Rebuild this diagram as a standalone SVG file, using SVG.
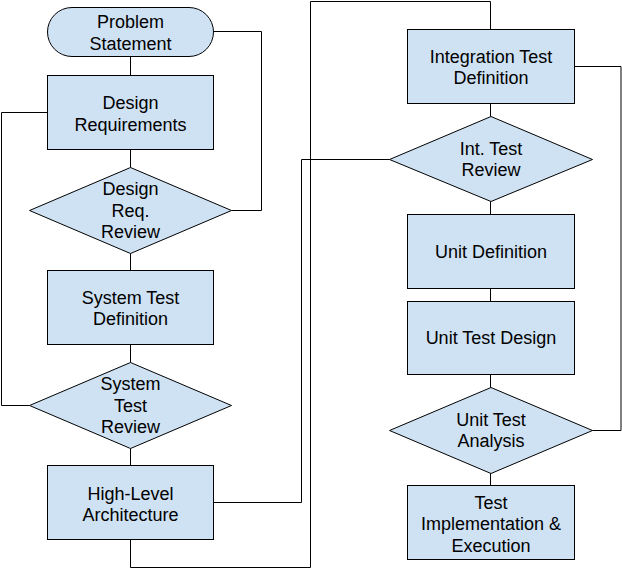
<svg xmlns="http://www.w3.org/2000/svg" width="622" height="569" viewBox="0 0 622 569">
<style>
.n{fill:#cfe2f3;stroke:#000;stroke-width:1}
.c{fill:none;stroke:#000;stroke-width:1}
text{font-family:"Liberation Sans",Arial,sans-serif;font-size:18px;fill:#000;text-anchor:middle}
</style>
<rect width="622" height="569" fill="#fff"/>
<g id="connectors">
<path class="c" d="M130.5 56V75.5M130.5 149.5V167.5M130.5 253.5V270.5M130.5 344.5V362.5M130.5 448.5V465.5"/>
<path class="c" d="M213.5 31.5H261.5V210.5H231.5"/>
<path class="c" d="M47.5 112.5H1.5V405.5H29.5"/>
<path class="c" d="M213.5 502.5H301.5V159.5H389.5"/>
<path class="c" d="M130.5 539.5V567.5H310.5V1.5H490.5V29.5"/>
<path class="c" d="M490.5 103.5V116.5M490.5 201.5V214.5M490.5 288.5V301.5M490.5 374.5V387.5M490.5 473.5V485.5"/>
<path class="c" d="M574.5 66.5H621V430.5H592.5"/>
</g>
<g id="problem-statement"><rect class="n" x="47.5" y="7.5" width="166" height="49" rx="24.5"/><text x="130.5" y="28">Problem</text><text x="130.5" y="49.5">Statement</text></g>
<g id="design-requirements"><rect class="n" x="47.5" y="75.5" width="166" height="74"/><text x="130.5" y="109">Design</text><text x="130.5" y="130.5">Requirements</text></g>
<g id="design-req-review"><polygon class="n" points="130.5,167.5 231.5,210.5 130.5,253.5 29.5,210.5"/><text x="130.5" y="195">Design</text><text x="130.5" y="216.5">Req.</text><text x="130.5" y="238">Review</text></g>
<g id="system-test-definition"><rect class="n" x="47.5" y="270.5" width="166" height="74"/><text x="130.5" y="303.5">System Test</text><text x="130.5" y="325">Definition</text></g>
<g id="system-test-review"><polygon class="n" points="130.5,362.5 231.5,405.5 130.5,448.5 29.5,405.5"/><text x="130.5" y="390">System</text><text x="130.5" y="411.5">Test</text><text x="130.5" y="433">Review</text></g>
<g id="high-level-architecture"><rect class="n" x="47.5" y="465.5" width="166" height="74"/><text x="130.5" y="499.5">High-Level</text><text x="130.5" y="520.5">Architecture</text></g>
<g id="integration-test-definition"><rect class="n" x="407.5" y="29.5" width="167" height="74"/><text x="491" y="62.5">Integration Test</text><text x="491" y="83.5">Definition</text></g>
<g id="int-test-review"><polygon class="n" points="491,116.5 592.5,159.5 491,201.5 389.5,159.5"/><text x="491" y="154.5">Int. Test</text><text x="491" y="176">Review</text></g>
<g id="unit-definition"><rect class="n" x="407.5" y="214.5" width="167" height="74"/><text x="491" y="258">Unit Definition</text></g>
<g id="unit-test-design"><rect class="n" x="407.5" y="301.5" width="167" height="73"/><text x="491" y="344">Unit Test Design</text></g>
<g id="unit-test-analysis"><polygon class="n" points="491,387.5 592.5,430.5 491,473.5 389.5,430.5"/><text x="491" y="426">Unit Test</text><text x="491" y="447">Analysis</text></g>
<g id="test-implementation"><rect class="n" x="407.5" y="485.5" width="167" height="74"/><text x="491" y="508.5">Test</text><text x="491" y="530">Implementation &amp;</text><text x="491" y="551.5">Execution</text></g>
</svg>
